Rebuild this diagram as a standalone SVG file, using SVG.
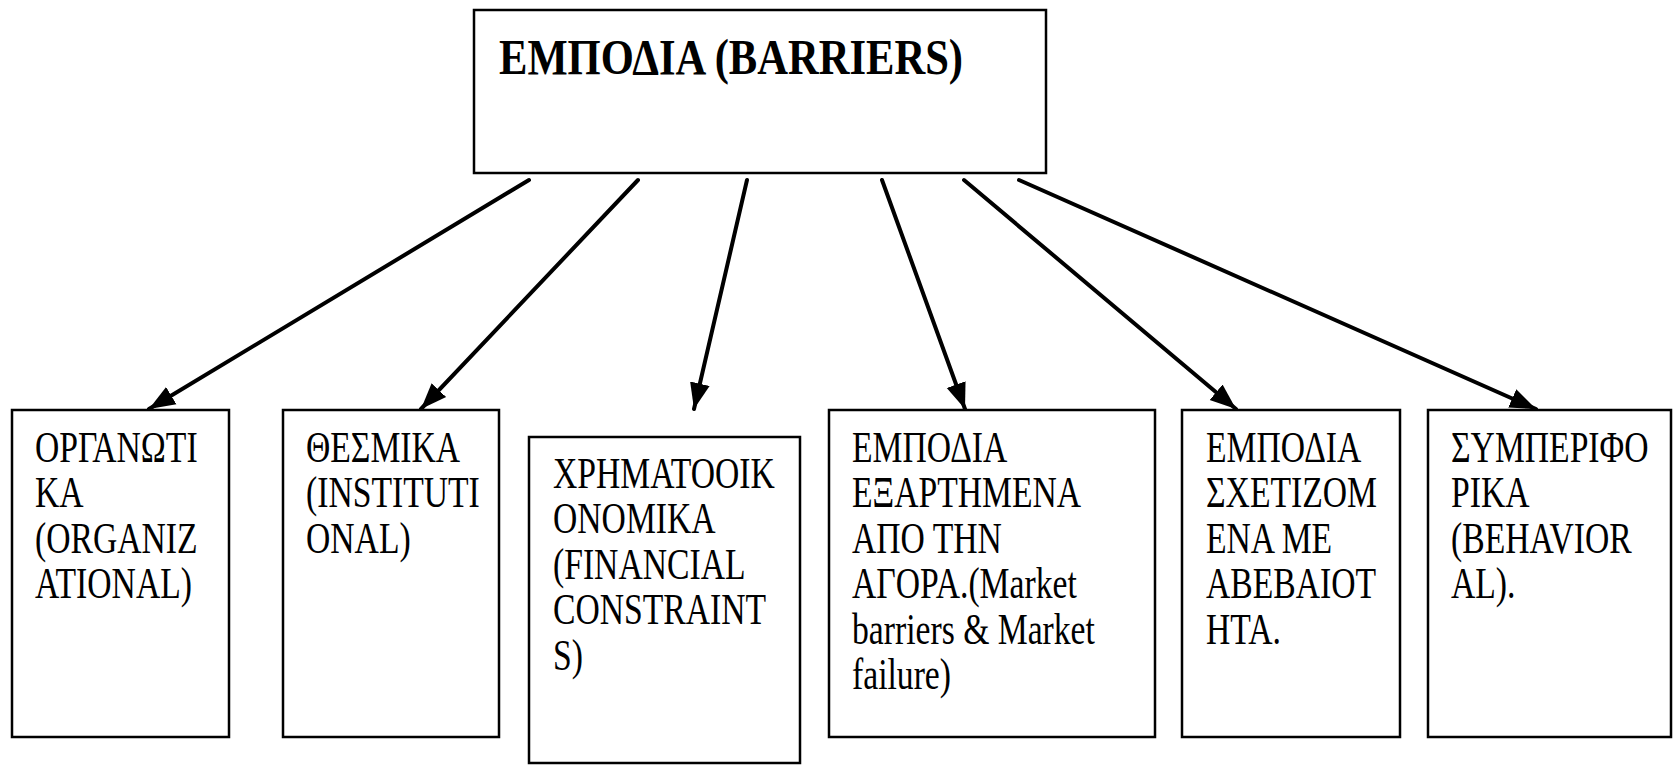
<svg xmlns="http://www.w3.org/2000/svg" width="1673" height="765" viewBox="0 0 1673 765">
<style>
.box{fill:#fff;stroke:#000;stroke-width:2.5}
.t{font-family:"Liberation Serif","Times New Roman",serif;font-size:44px;fill:#000}
.title{font-family:"Liberation Serif","Times New Roman",serif;font-size:50px;font-weight:bold;fill:#000}
.c{stroke:#000;stroke-width:4;fill:none;stroke-linecap:round}
</style>
<defs>
<marker id="ah" markerUnits="userSpaceOnUse" markerWidth="28" markerHeight="22" refX="26" refY="10" orient="auto" viewBox="0 0 28 20">
<path d="M0,0 L26,10 L0,20 Z" fill="#000"/>
</marker>
</defs>
<rect width="1673" height="765" fill="#fff"/>
<g id="connectors">
<line class="c" x1="529" y1="180" x2="149" y2="409" marker-end="url(#ah)"/>
<line class="c" x1="638" y1="180" x2="421" y2="409" marker-end="url(#ah)"/>
<line class="c" x1="747" y1="180" x2="694" y2="409" marker-end="url(#ah)"/>
<line class="c" x1="882" y1="180" x2="965" y2="409" marker-end="url(#ah)"/>
<line class="c" x1="964" y1="180" x2="1236" y2="409" marker-end="url(#ah)"/>
<line class="c" x1="1019" y1="180" x2="1536" y2="409" marker-end="url(#ah)"/>
</g>
<g id="barriers">
<rect class="box" x="474" y="10" width="572" height="163"/>
<text class="title" x="499" y="74" textLength="464" lengthAdjust="spacingAndGlyphs">ΕΜΠΟΔΙΑ (BARRIERS)</text>
</g>
<g id="organizational">
<rect class="box" x="12" y="410" width="217" height="327"/>
<text class="t" transform="translate(35,0) scale(0.765,1)"><tspan x="0" y="462">ΟΡΓΑΝΩΤΙ</tspan><tspan x="0" y="507.5">ΚΑ</tspan><tspan x="0" y="553">(ORGANIZ</tspan><tspan x="0" y="598.5">ATIONAL)</tspan></text>
</g>
<g id="institutional">
<rect class="box" x="283" y="410" width="216" height="327"/>
<text class="t" transform="translate(306,0) scale(0.765,1)"><tspan x="0" y="462">ΘΕΣΜΙΚΑ</tspan><tspan x="0" y="507.5">(INSTITUTI</tspan><tspan x="0" y="553">ONAL)</tspan></text>
</g>
<g id="financial">
<rect class="box" x="529" y="437" width="271" height="326"/>
<text class="t" transform="translate(553,0) scale(0.765,1)"><tspan x="0" y="488">ΧΡΗΜΑΤΟΟΙΚ</tspan><tspan x="0" y="533.5">ΟΝΟΜΙΚΑ</tspan><tspan x="0" y="579">(FINANCIAL</tspan><tspan x="0" y="624.5">CONSTRAINT</tspan><tspan x="0" y="670">S)</tspan></text>
</g>
<g id="market">
<rect class="box" x="829" y="410" width="326" height="327"/>
<text class="t" transform="translate(852,0) scale(0.765,1)"><tspan x="0" y="462">ΕΜΠΟΔΙΑ</tspan><tspan x="0" y="507.5">ΕΞΑΡΤΗΜΕΝΑ</tspan><tspan x="0" y="553">ΑΠΟ ΤΗΝ</tspan><tspan x="0" y="598.5">ΑΓΟΡΑ.(Market</tspan><tspan x="0" y="644">barriers &amp; Market</tspan><tspan x="0" y="689.5">failure)</tspan></text>
</g>
<g id="uncertainty">
<rect class="box" x="1182" y="410" width="218" height="327"/>
<text class="t" transform="translate(1206,0) scale(0.765,1)"><tspan x="0" y="462">ΕΜΠΟΔΙΑ</tspan><tspan x="0" y="507.5">ΣΧΕΤΙΖΟΜ</tspan><tspan x="0" y="553">ΕΝΑ ΜΕ</tspan><tspan x="0" y="598.5">ΑΒΕΒΑΙΟΤ</tspan><tspan x="0" y="644">ΗΤΑ.</tspan></text>
</g>
<g id="behavioral">
<rect class="box" x="1428" y="410" width="243" height="327"/>
<text class="t" transform="translate(1451,0) scale(0.765,1)"><tspan x="0" y="462">ΣΥΜΠΕΡΙΦΟ</tspan><tspan x="0" y="507.5">ΡΙΚΑ</tspan><tspan x="0" y="553">(BEHAVIOR</tspan><tspan x="0" y="598.5">AL).</tspan></text>
</g>
</svg>
